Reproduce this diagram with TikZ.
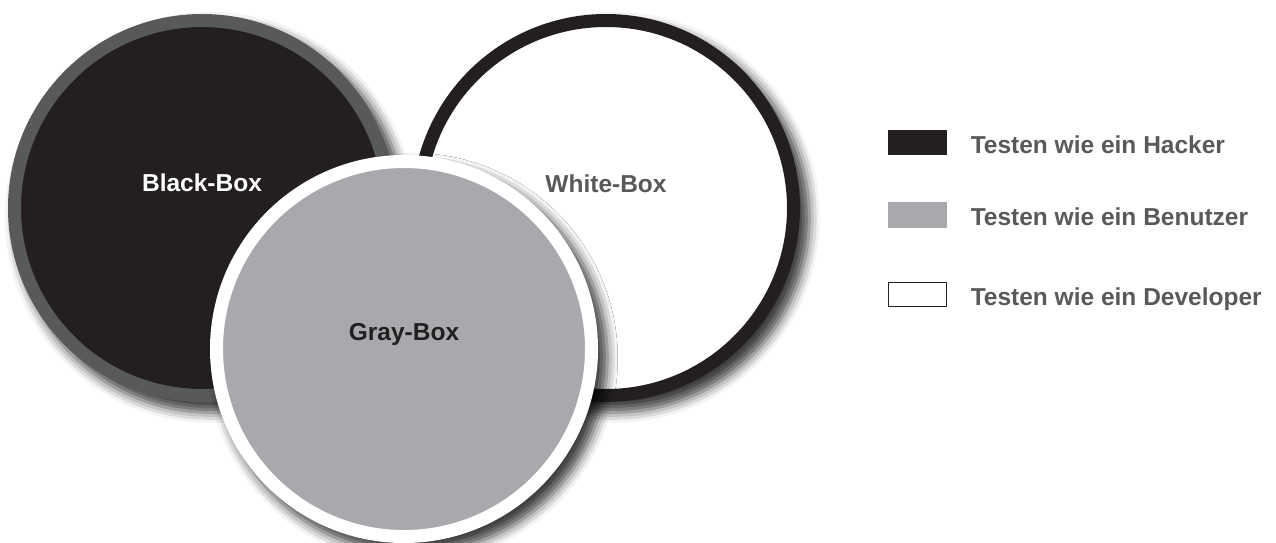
\documentclass[tikz,border=0pt]{standalone}
\usepackage{fontspec}
\setmainfont{Liberation Sans}
\usetikzlibrary{shadows.blur}

\definecolor{bbschwarz}{HTML}{231F20}
\definecolor{ringgrau}{HTML}{58595B}
\definecolor{grauflaeche}{HTML}{A7A9AC}

\begin{document}
\begin{tikzpicture}[
        x=1pt, y=1pt,
        kreis/.style={
            circle,
            inner sep=0pt,
            minimum size=375pt,
            line width=13pt,
            blur shadow={shadow xshift=8pt, shadow yshift=-9pt,
                shadow blur radius=10pt, shadow opacity=75, shadow scale=1.04}
        },
        etikett/.style={
            font=\bfseries\fontsize{24.5}{28}\selectfont,
            anchor=base
        },
        feld/.style={
            rectangle,
            inner sep=0pt,
            minimum width=58pt,
            minimum height=24pt,
            line width=1.5pt
        }
    ]
        \useasboundingbox (0,0) rectangle (1276,-542);

        % Die drei Kreise, der graue liegt oben
        \node[kreis, draw=ringgrau, fill=bbschwarz] (black) at (202,-208) {};
        \node[kreis, draw=bbschwarz, fill=white] (white) at (606,-208) {};
        \node[kreis, draw=white, fill=grauflaeche] (gray) at (404,-349) {};

        % Beschriftungen
        \node[etikett, text=white] (blacktext) at (202,-191) {Black-Box};
        \node[etikett, text=ringgrau] (whitetext) at (606,-192) {White-Box};
        \node[etikett, text=bbschwarz] (graytext) at (404,-340) {Gray-Box};

        % Legende
        \foreach \i/\farbe/\rand/\wer/\y in {1/bbschwarz/bbschwarz/Hacker/142.5,
                2/grauflaeche/grauflaeche/Benutzer/215,
                3/white/bbschwarz/Developer/294.5} {
            \node[feld, fill=\farbe, draw=\rand] (feld\i) at (917.5,-\y) {};
            \node[etikett, anchor=base west, text=ringgrau] (legende\i)
                at ([xshift=20pt, yshift=-10.5pt]feld\i.east) {Testen wie ein \wer};
        }
    \end{tikzpicture}
\end{document}
